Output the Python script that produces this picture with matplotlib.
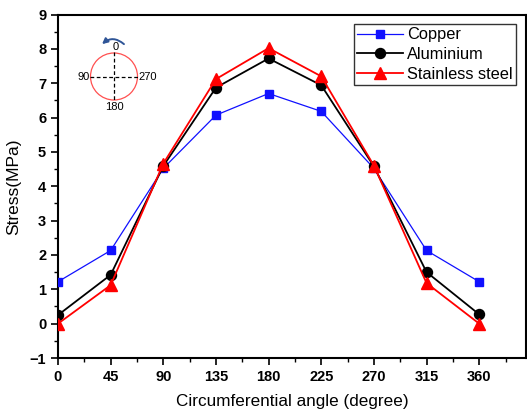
import matplotlib
matplotlib.use("Agg")
import matplotlib.pyplot as plt
from matplotlib.patches import Circle, FancyArrowPatch
from matplotlib.ticker import MultipleLocator

plt.rcParams['font.family'] = ['Liberation Sans', 'DejaVu Sans']

angles = [0, 45, 90, 135, 180, 225, 270, 315, 360]
copper = [1.22, 2.13, 4.52, 6.07, 6.70, 6.18, 4.52, 2.13, 1.22]
aluminium = [0.25, 1.42, 4.59, 6.87, 7.72, 6.94, 4.58, 1.50, 0.27]
stainless = [0.00, 1.12, 4.66, 7.12, 8.02, 7.20, 4.60, 1.18, 0.00]
xticks = [0, 45, 90, 135, 180, 225, 270, 315, 360]
yticks = [-1, 0, 1, 2, 3, 4, 5, 6, 7, 8, 9]

W, H = 527, 416
fig = plt.figure(figsize=(W/100, H/100), dpi=100)
ax = fig.add_axes([58/W, 1-358/H, (526-58)/W, (358-14.5)/H])

ax.plot(angles, copper, color='#1010ff', lw=0.9, marker='s', ms=6.3,
        label='Copper', zorder=3)
ax.plot(angles, aluminium, color='black', lw=1.3, marker='o', ms=7.2,
        label='Aluminium', zorder=4)
ax.plot(angles, stainless, color='#ff0000', lw=1.3, marker='^', ms=8.5,
        label='Stainless steel', zorder=5)

ax.set_xlim(0, 400)
ax.set_ylim(-1, 9)
ax.set_xticks(xticks)
ax.set_yticks(yticks)
ax.xaxis.set_minor_locator(MultipleLocator(22.5))
ax.yaxis.set_minor_locator(MultipleLocator(0.5))
ax.tick_params(which='major', direction='out', length=5, width=1.2,
               labelsize=10.5)
ax.tick_params(which='minor', direction='out', length=3, width=1.0)
for lab in ax.get_xticklabels() + ax.get_yticklabels():
    lab.set_fontweight('bold')
for s in ax.spines.values():
    s.set_linewidth(1.5)

ax.set_xlabel('Circumferential angle (degree)', fontsize=12.3, labelpad=7)
ax.set_ylabel('Stress(MPa)', fontsize=12.5, labelpad=6)

leg = ax.legend(loc='upper right', bbox_to_anchor=(0.979, 0.972),
                fontsize=11.8, frameon=True, fancybox=False,
                edgecolor='black', handlelength=2.8, handletextpad=0.25,
                borderpad=0.2, labelspacing=0.28, borderaxespad=0.0)
leg.get_frame().set_linewidth(1.0)

# inset schematic (data units = pixels)
x0, x1, y0, y1 = 72, 160, 32, 118
ai = fig.add_axes([x0/W, 1-y1/H, (x1-x0)/W, (y1-y0)/H])
ai.set_xlim(x0, x1)
ai.set_ylim(y1, y0)
ai.axis('off')
cx, cy, r = 114, 76.5, 23.5
ai.add_patch(Circle((cx, cy), r, fill=False, ec='#ff5050', lw=0.9))
ai.plot([cx - r - 1, cx + r + 1], [cy, cy], color='black', lw=0.9, ls=(0, (3, 2)))
ai.plot([cx, cx], [cy - r - 1, cy + r + 1], color='black', lw=0.9, ls=(0, (3, 2)))
ai.text(cx + 2, cy - r - 1, '0', fontsize=8, ha='center', va='bottom')
ai.text(cx - r - 0.5, cy, '90', fontsize=8, ha='right', va='center')
ai.text(cx + r + 0.5, cy, '270', fontsize=8, ha='left', va='center')
ai.add_patch(FancyArrowPatch((126, 46), (100, 46), connectionstyle='arc3,rad=0.5',
                             arrowstyle='-|>', mutation_scale=8, color='#2f5597', lw=1.4))
ai.text(cx, cy + r + 2, '180', fontsize=8, ha='center', va='top')

fig.savefig('out.png', dpi=100)
